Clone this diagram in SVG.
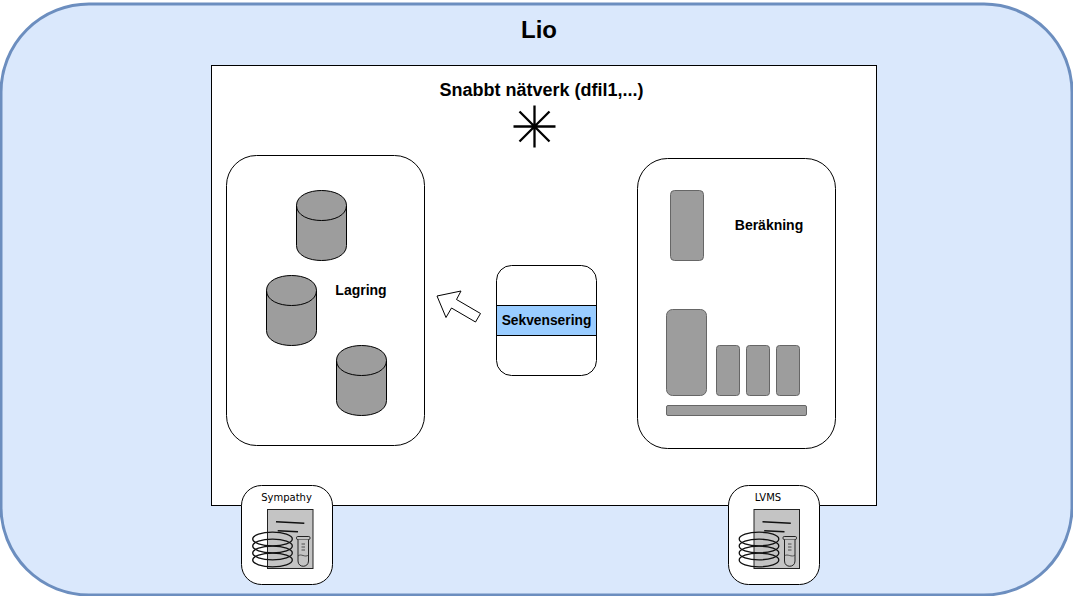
<svg xmlns="http://www.w3.org/2000/svg" xmlns:xlink="http://www.w3.org/1999/xlink" width="1073" height="596" viewBox="0 0 1073 596">
<style>
text{font-family:"Liberation Sans",Arial,sans-serif;font-weight:bold;fill:#000;text-anchor:middle}
.panel{fill:#fff;stroke:#000;stroke-width:1}
.cyl{fill:#9d9d9d;stroke:#000;stroke-width:1}
.srv{fill:#9d9d9d;stroke:#666;stroke-width:1}
.small{font-family:"DejaVu Sans",sans-serif;font-weight:normal;font-size:10px}
.ln{fill:none;stroke:#000;stroke-width:1}
</style>
<defs>
<g id="cylinder">
<path class="cyl" d="M0 15C0-5 50-5 50 15V55C50 75 0 75 0 55Z"/>
<path class="ln" d="M0 15C0 35 50 35 50 15"/>
</g>
<g id="doc">
<rect x="26.500" y="24.500" width="45.500" height="59" fill="#c4c4c4" stroke="#222" stroke-width="1"/>
<path d="M35 36.700L63.300 38.300M36.700 45.700L57 46.700" fill="none" stroke="#111" stroke-width="1.400"/>
<rect x="55.500" y="51.500" width="13.500" height="3" rx="1.200" fill="#c4c4c4" stroke="#222" stroke-width="1"/>
<path d="M57 54.500V76C57 83 67.500 83 67.500 76V54.500" fill="#c4c4c4" stroke="#222" stroke-width="1"/>
<path d="M57 71C60 68 64 73 67.500 70M60.500 59H64M60.500 62H64M60.500 65H64" fill="none" stroke="#333" stroke-width=".8"/>
<g fill="none" stroke="#111" stroke-width="1.300">
<ellipse cx="31.500" cy="54" rx="19.800" ry="6.800"/>
<ellipse cx="31.500" cy="61" rx="19.800" ry="6.800"/>
<ellipse cx="31.500" cy="68" rx="19.800" ry="6.800"/>
<ellipse cx="31.500" cy="75" rx="19.800" ry="6.800"/>
</g>
</g>
</defs>
<g id="lio">
<rect x="1" y="4" width="1071" height="591" rx="88" ry="88" fill="#dae8fc" stroke="#6c8ebf" stroke-width="3"/>
<text x="539" y="38" font-size="24">Lio</text>
</g>
<g id="network">
<rect x="211.500" y="65.500" width="665" height="440" fill="#fff" stroke="#000"/>
<text x="541.500" y="96" font-size="18">Snabbt nätverk (dfil1,...)</text>
<path d="M534.500 105.500V147.500M513.500 126.500H555.500M519.500 111.500L549.500 141.500M549.500 111.500L519.500 141.500" fill="none" stroke="#000" stroke-width="2.300"/>
</g>
<g id="lagring">
<rect class="panel" x="226.500" y="155.500" width="198" height="290" rx="30" ry="30"/>
<use xlink:href="#cylinder" href="#cylinder" x="296.500" y="190.500"/>
<use xlink:href="#cylinder" href="#cylinder" x="266.500" y="275.500"/>
<use xlink:href="#cylinder" href="#cylinder" x="336.500" y="345.500"/>
<text x="361" y="295" font-size="14">Lagring</text>
</g>
<g id="berakning">
<rect class="panel" x="637.500" y="158.500" width="198" height="290" rx="30" ry="30"/>
<rect class="srv" x="670.500" y="190.500" width="33" height="70" rx="4"/>
<rect class="srv" x="666.500" y="309.500" width="40" height="86" rx="6"/>
<rect class="srv" x="716.500" y="345.500" width="23" height="50" rx="3"/>
<rect class="srv" x="746.500" y="345.500" width="23" height="50" rx="3"/>
<rect class="srv" x="776.500" y="345.500" width="23" height="50" rx="3"/>
<rect class="srv" x="666.500" y="405.500" width="140" height="10" rx="1.500"/>
<text x="769" y="230" font-size="14">Beräkning</text>
</g>
<g id="sekvensering">
<rect class="panel" x="496.500" y="265.500" width="100" height="110" rx="15" ry="15"/>
<rect x="496.500" y="305.500" width="100" height="30" fill="#99ccff" stroke="#000"/>
<text x="546.500" y="325" font-size="13.800">Sekvensering</text>
</g>
<g id="connectors">
<path d="M437 296L461 291 456.500 299.500 480.500 313.500 475.500 322 451.500 308 446 317.500Z" fill="#fff" stroke="#000" stroke-width="1"/>
</g>
<g id="sympathy">
<rect class="panel" x="241.500" y="485.500" width="91" height="99" rx="20" ry="20"/>
<text class="small" x="286.500" y="501">Sympathy</text>
<use xlink:href="#doc" href="#doc" x="241" y="485"/>
</g>
<g id="lvms">
<rect class="panel" x="728.500" y="485.500" width="91" height="99" rx="20" ry="20"/>
<text class="small" x="768" y="501">LVMS</text>
<use xlink:href="#doc" href="#doc" x="727.500" y="485"/>
</g>
</svg>
